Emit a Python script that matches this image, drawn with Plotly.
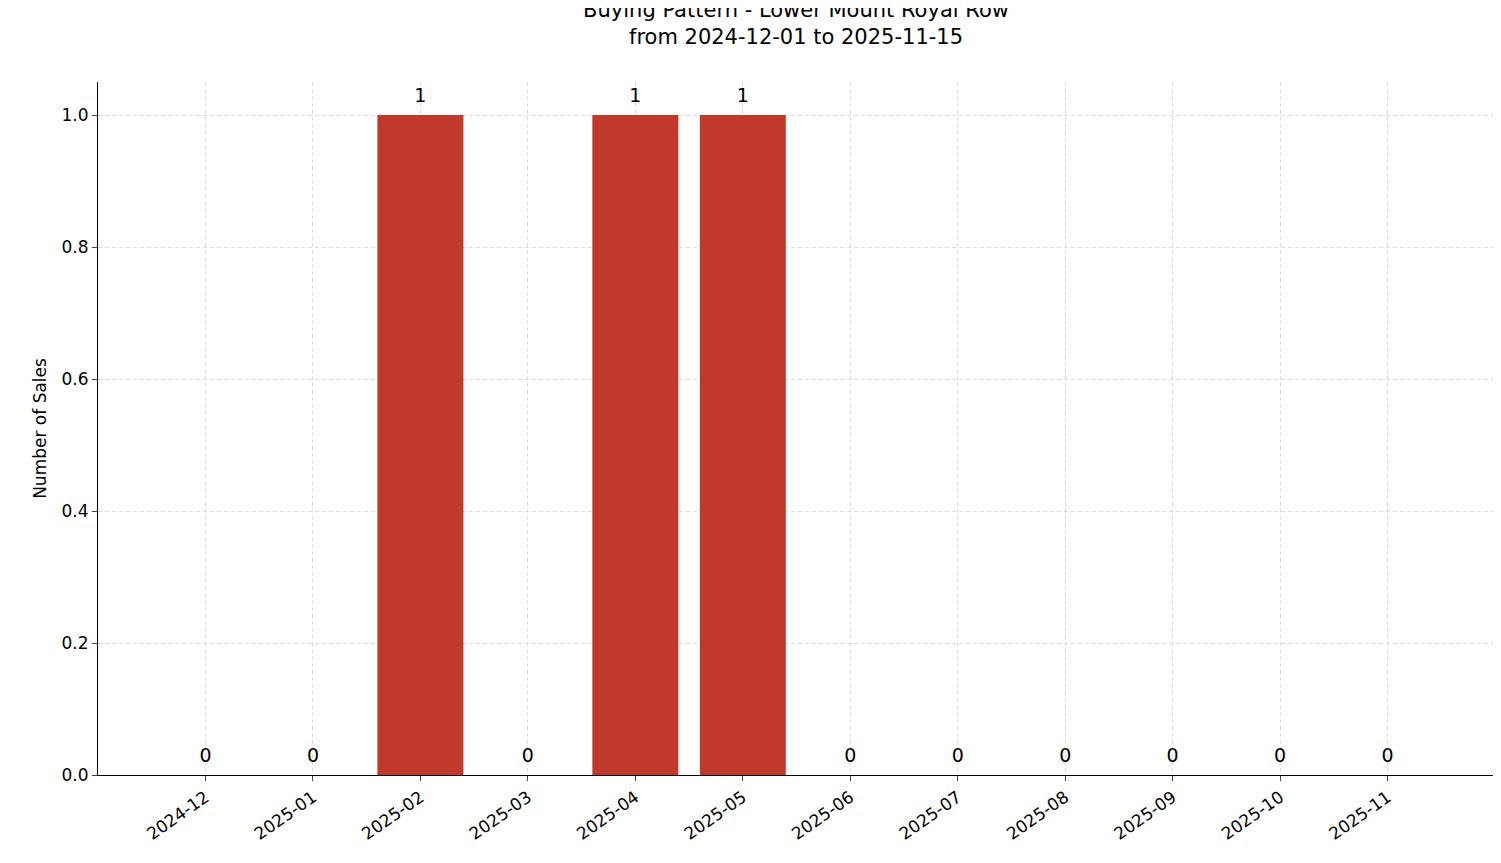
import plotly.graph_objects as go

months = ["2024-12","2025-01","2025-02","2025-03","2025-04","2025-05","2025-06","2025-07","2025-08","2025-09","2025-10","2025-11"]
sales = [0,0,1,0,1,1,0,0,0,0,0,0]
xs = list(range(len(months)))

fig = go.Figure()
fig.add_bar(x=xs, y=sales, width=0.8, marker_color="#c0392b", marker_line_width=0)
fig.add_scatter(x=xs, y=[v + 0.012 for v in sales], mode="text", text=[str(v) for v in sales],
                textposition="top center", textfont=dict(size=19, color="black"), cliponaxis=False)

fig.update_layout(
    width=1501, height=863, showlegend=False, plot_bgcolor="white", paper_bgcolor="white",
    font=dict(family="DejaVu Sans", size=17, color="black"),
    margin=dict(l=90, r=15, t=74, b=96),
    title=dict(text="Buying Pattern - Lower Mount Royal Row<br>from 2024-12-01 to 2025-11-15",
               x=0.525, xanchor="center", y=0.99, yanchor="top", font=dict(size=21)),
)
fig.update_xaxes(range=[-1.0, 11.99], tickvals=xs, ticktext=months, tickangle=-35,
                 showline=True, linecolor="black", ticks="outside", ticklen=5, automargin=False,
                 showgrid=True, gridcolor="#dcdcdc", griddash="4px,3px", gridwidth=0.8, zeroline=False)
fig.update_yaxes(range=[0, 1.05], tickvals=[0,0.2,0.4,0.6,0.8,1.0], tickformat=".1f",
                 title=dict(text="Number of Sales", font=dict(size=17), standoff=10),
                 showline=True, linecolor="black", ticks="outside", ticklen=5, automargin=False,
                 showgrid=True, gridcolor="#dcdcdc", griddash="4px,3px", gridwidth=0.8, zeroline=False)
fig.write_html("out.html")
